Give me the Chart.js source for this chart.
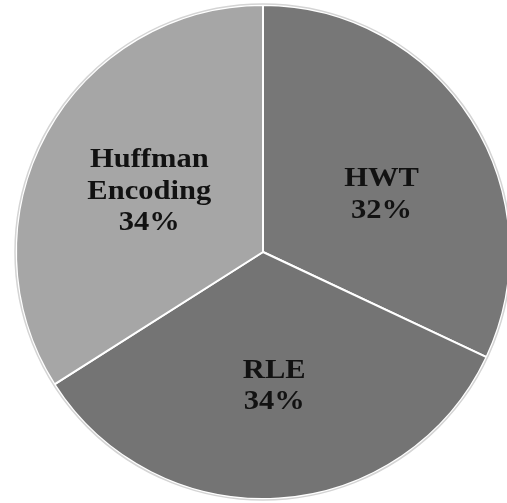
<!DOCTYPE html>
<html>
<head>
<meta charset="utf-8">
<script src="https://cdn.jsdelivr.net/npm/chart.js@4"></script>
<style>
  html, body { margin: 0; padding: 0; background: #fff; overflow: hidden; }
  #wrap { position: absolute; left: 0; top: 0; width: 530px; height: 503px; }
</style>
</head>
<body>
<div id="wrap"><canvas id="pie"></canvas></div>
<script>
// Compression method share
const methods = ['HWT', 'RLE', 'Huffman\nEncoding'];
const shares = [32, 34, 34];
const sliceColors = ['#777777', '#747474', '#a6a6a6'];

// Draws a faint outline around the whole pie
const outlinePlugin = {
  id: 'outline',
  afterDatasetsDraw(chart) {
    const arc = chart.getDatasetMeta(0).data[0];
    if (!arc) return;
    const { ctx } = chart;
    ctx.save();
    ctx.beginPath();
    ctx.arc(arc.x, arc.y, arc.outerRadius + 1, 0, Math.PI * 2);
    ctx.strokeStyle = '#d4d4d4';
    ctx.lineWidth = 1.5;
    ctx.stroke();
    ctx.restore();
  }
};

// Category name and percentage written inside each slice
const sliceLabelPlugin = {
  id: 'sliceLabels',
  afterDatasetsDraw(chart, args, opts) {
    const { ctx } = chart;
    const meta = chart.getDatasetMeta(0);
    const total = shares.reduce((a, b) => a + b, 0);
    meta.data.forEach((arc, i) => {
      const mid = (arc.startAngle + arc.endAngle) / 2;
      const r = arc.outerRadius * opts.radiusFactor;
      const nudge = opts.nudge[i] || [0, 0];
      const x = arc.x + Math.cos(mid) * r + nudge[0];
      const y = arc.y + Math.sin(mid) * r + nudge[1];
      const lines = methods[i].split('\n');
      lines.push(Math.round(shares[i] / total * 100) + '%');
      const lh = opts.lineHeight;
      // baseline of the first line, so the block sits centred on (x, y)
      const y0 = y - (lines.length - 1) * lh / 2 + 9;
      ctx.save();
      ctx.translate(x, 0);
      ctx.scale(opts.stretch, 1);
      ctx.font = 'bold 28px "Liberation Serif", "Times New Roman", serif';
      ctx.fillStyle = '#121212';
      ctx.textAlign = 'center';
      ctx.textBaseline = 'alphabetic';
      lines.forEach((t, k) => ctx.fillText(t, 0, y0 + k * lh));
      ctx.restore();
    });
  }
};

new Chart(document.getElementById('pie'), {
  type: 'pie',
  data: {
    labels: methods.map(m => m.replace('\n', ' ')),
    datasets: [{
      data: shares,
      backgroundColor: sliceColors,
      borderColor: '#ffffff',
      borderWidth: 2
    }]
  },
  options: {
    responsive: true,
    maintainAspectRatio: false,
    animation: false,
    radius: 247,
    layout: { padding: { left: 16, right: 20, top: 5, bottom: 4 } },
    plugins: {
      legend: { display: false },
      tooltip: { enabled: false },
      sliceLabels: {
        radiusFactor: 0.53,
        lineHeight: 31.5,
        stretch: 1.09,
        nudge: [[8, 11], [3, 2], [1, 1]]
      }
    }
  },
  plugins: [outlinePlugin, sliceLabelPlugin]
});
</script>
</body>
</html>
